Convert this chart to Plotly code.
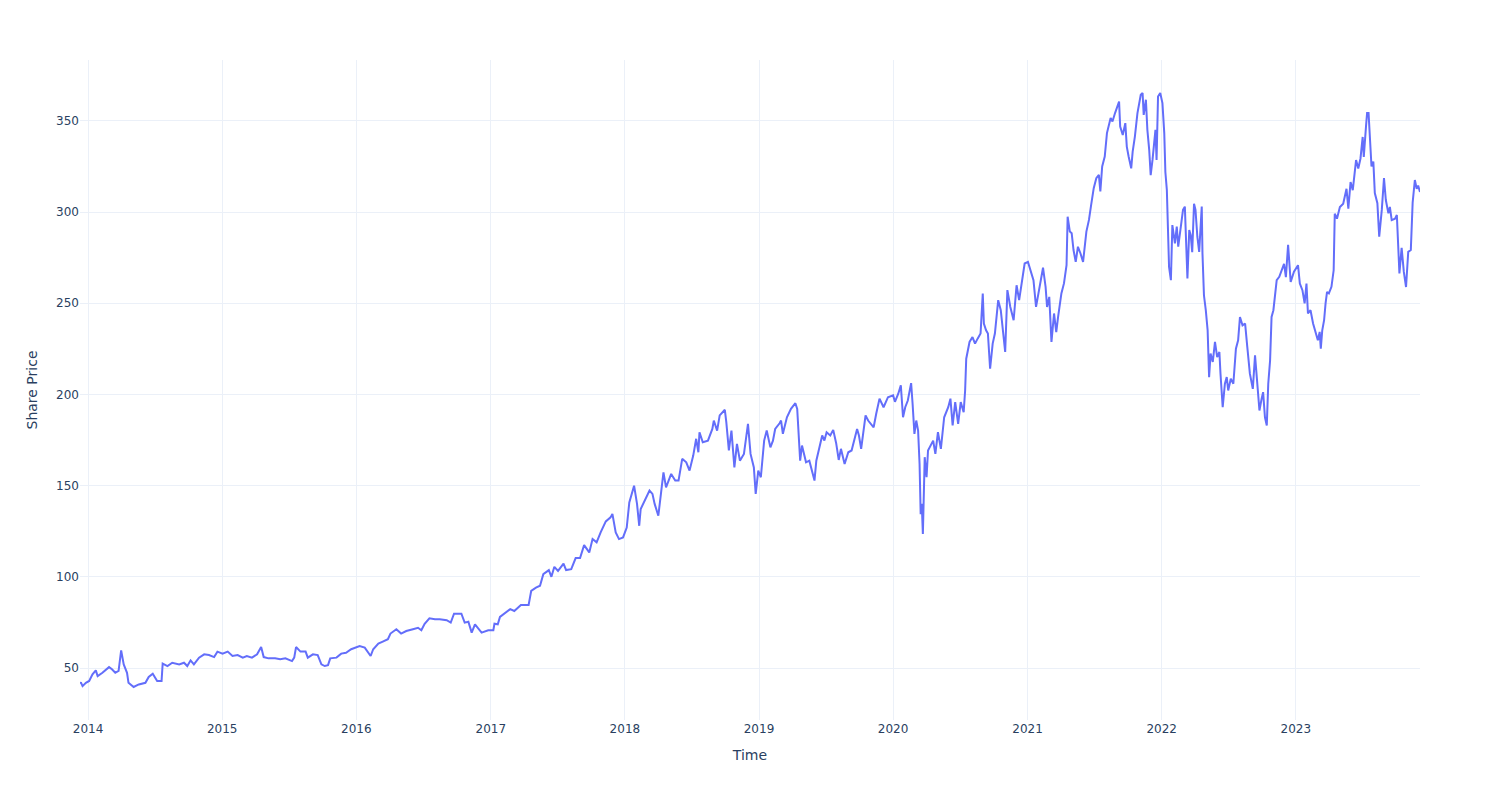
import plotly.graph_objects as go

dates = [
    "2013-12-10", "2013-12-13", "2013-12-17", "2013-12-26", "2014-01-04", "2014-01-13", "2014-01-22", "2014-01-27",
    "2014-02-09", "2014-02-27", "2014-03-07", "2014-03-16", "2014-03-25", "2014-04-01", "2014-04-08", "2014-04-17",
    "2014-04-21", "2014-05-05", "2014-05-19", "2014-06-06", "2014-06-15", "2014-06-26", "2014-07-08", "2014-07-20",
    "2014-07-23", "2014-08-05", "2014-08-18", "2014-09-06", "2014-09-19", "2014-09-28", "2014-10-07", "2014-10-16",
    "2014-10-30", "2014-11-13", "2014-11-26", "2014-12-10", "2014-12-19", "2015-01-02", "2015-01-16", "2015-01-29",
    "2015-02-12", "2015-02-26", "2015-03-09", "2015-03-23", "2015-04-06", "2015-04-17", "2015-04-24", "2015-05-07",
    "2015-05-25", "2015-06-08", "2015-06-22", "2015-07-10", "2015-07-16", "2015-07-21", "2015-08-02", "2015-08-16",
    "2015-08-22", "2015-09-05", "2015-09-18", "2015-09-28", "2015-10-07", "2015-10-16", "2015-10-22", "2015-11-08",
    "2015-11-21", "2015-12-04", "2015-12-18", "2016-01-01", "2016-01-10", "2016-01-24", "2016-02-02", "2016-02-09",
    "2016-02-16", "2016-03-01", "2016-03-13", "2016-03-27", "2016-04-03", "2016-04-19", "2016-05-02", "2016-05-16",
    "2016-06-03", "2016-06-17", "2016-06-26", "2016-07-05", "2016-07-18", "2016-08-02", "2016-08-15", "2016-09-03",
    "2016-09-14", "2016-09-23", "2016-10-13", "2016-10-22", "2016-11-01", "2016-11-10", "2016-11-19", "2016-12-07",
    "2016-12-25", "2017-01-08", "2017-01-11", "2017-01-20", "2017-01-26", "2017-02-05", "2017-02-18", "2017-02-23",
    "2017-03-06", "2017-03-24", "2017-04-14", "2017-04-21", "2017-05-04", "2017-05-15", "2017-05-24", "2017-06-08",
    "2017-06-15", "2017-06-23", "2017-07-03", "2017-07-18", "2017-07-25", "2017-08-08", "2017-08-20", "2017-09-01",
    "2017-09-12", "2017-09-26", "2017-10-05", "2017-10-16", "2017-10-27", "2017-11-10", "2017-11-23", "2017-11-28",
    "2017-12-07", "2017-12-16", "2017-12-27", "2018-01-06", "2018-01-13", "2018-01-26", "2018-02-03", "2018-02-09",
    "2018-02-13", "2018-02-28", "2018-03-09", "2018-03-17", "2018-03-23", "2018-04-02", "2018-04-16", "2018-04-23",
    "2018-05-07", "2018-05-18", "2018-05-27", "2018-06-06", "2018-06-17", "2018-06-26", "2018-07-06", "2018-07-14",
    "2018-07-20", "2018-07-23", "2018-08-01", "2018-08-15", "2018-08-27", "2018-08-31", "2018-09-09", "2018-09-16",
    "2018-09-25", "2018-09-30", "2018-10-04", "2018-10-11", "2018-10-18", "2018-10-26", "2018-11-02", "2018-11-10",
    "2018-11-21", "2018-12-02", "2018-12-09", "2018-12-18", "2018-12-23", "2018-12-30", "2019-01-06", "2019-01-15",
    "2019-01-22", "2019-02-01", "2019-02-08", "2019-02-14", "2019-02-26", "2019-03-02", "2019-03-07", "2019-03-18",
    "2019-03-29", "2019-04-10", "2019-04-15", "2019-04-19", "2019-04-23", "2019-04-28", "2019-05-09", "2019-05-18",
    "2019-05-23", "2019-06-01", "2019-06-06", "2019-06-14", "2019-06-22", "2019-06-28", "2019-07-04", "2019-07-14",
    "2019-07-22", "2019-07-30", "2019-08-06", "2019-08-12", "2019-08-22", "2019-09-01", "2019-09-10", "2019-09-25",
    "2019-09-30", "2019-10-06", "2019-10-18", "2019-10-25", "2019-11-09", "2019-11-16", "2019-11-25", "2019-12-06",
    "2019-12-18", "2020-01-01", "2020-01-06", "2020-01-15", "2020-01-22", "2020-01-28", "2020-02-03", "2020-02-10",
    "2020-02-19", "2020-02-23", "2020-02-28", "2020-03-04", "2020-03-09", "2020-03-13", "2020-03-16", "2020-03-19",
    "2020-03-22", "2020-03-27", "2020-04-01", "2020-04-05", "2020-04-12", "2020-04-19", "2020-04-25", "2020-05-02",
    "2020-05-10", "2020-05-19", "2020-05-30", "2020-06-05", "2020-06-11", "2020-06-18", "2020-06-26", "2020-07-03",
    "2020-07-11", "2020-07-15", "2020-07-18", "2020-07-27", "2020-08-04", "2020-08-11", "2020-08-18", "2020-08-26",
    "2020-09-01", "2020-09-04", "2020-09-10", "2020-09-15", "2020-09-21", "2020-09-28", "2020-10-04", "2020-10-13",
    "2020-10-20", "2020-11-01", "2020-11-07", "2020-11-15", "2020-11-24", "2020-12-02", "2020-12-09", "2020-12-18",
    "2020-12-24", "2021-01-02", "2021-01-09", "2021-01-17", "2021-01-24", "2021-02-02", "2021-02-12", "2021-02-19",
    "2021-02-23", "2021-03-01", "2021-03-07", "2021-03-14", "2021-03-20", "2021-03-25", "2021-04-03", "2021-04-10",
    "2021-04-17", "2021-04-20", "2021-04-26", "2021-05-01", "2021-05-06", "2021-05-12", "2021-05-18", "2021-05-25",
    "2021-06-01", "2021-06-10", "2021-06-17", "2021-06-23", "2021-06-30", "2021-07-07", "2021-07-14", "2021-07-18",
    "2021-07-23", "2021-07-30", "2021-08-05", "2021-08-15", "2021-08-20", "2021-08-27", "2021-09-02", "2021-09-07",
    "2021-09-10", "2021-09-17", "2021-09-24", "2021-09-28", "2021-10-03", "2021-10-10", "2021-10-14", "2021-10-20",
    "2021-10-27", "2021-11-05", "2021-11-10", "2021-11-13", "2021-11-19", "2021-11-23", "2021-11-28", "2021-12-02",
    "2021-12-07", "2021-12-11", "2021-12-15", "2021-12-18", "2021-12-22", "2021-12-28", "2022-01-03", "2022-01-08",
    "2022-01-11", "2022-01-15", "2022-01-18", "2022-01-21", "2022-01-26", "2022-01-30", "2022-02-06", "2022-02-11",
    "2022-02-15", "2022-02-24", "2022-02-28", "2022-03-05", "2022-03-08", "2022-03-12", "2022-03-17", "2022-03-21",
    "2022-03-25", "2022-03-30", "2022-04-03", "2022-04-08", "2022-04-13", "2022-04-20", "2022-04-22", "2022-04-26",
    "2022-05-01", "2022-05-06", "2022-05-10", "2022-05-14", "2022-05-20", "2022-05-26", "2022-06-01", "2022-06-07",
    "2022-06-10", "2022-06-16", "2022-06-22", "2022-06-27", "2022-07-01", "2022-07-08", "2022-07-15", "2022-07-22",
    "2022-07-28", "2022-08-02", "2022-08-09", "2022-08-16", "2022-08-22", "2022-08-29", "2022-09-06", "2022-09-12",
    "2022-09-16", "2022-09-24", "2022-09-30", "2022-10-04", "2022-10-09", "2022-10-14", "2022-10-18", "2022-10-23",
    "2022-10-27", "2022-11-01", "2022-11-10", "2022-11-17", "2022-11-30", "2022-12-05", "2022-12-11", "2022-12-18",
    "2022-12-27", "2023-01-07", "2023-01-12", "2023-01-19", "2023-01-25", "2023-01-30", "2023-02-03", "2023-02-10",
    "2023-02-17", "2023-02-24", "2023-03-02", "2023-03-07", "2023-03-10", "2023-03-14", "2023-03-19", "2023-03-23",
    "2023-03-27", "2023-04-01", "2023-04-08", "2023-04-14", "2023-04-17", "2023-04-23", "2023-05-01", "2023-05-10",
    "2023-05-19", "2023-05-24", "2023-05-30", "2023-06-05", "2023-06-14", "2023-06-20", "2023-06-26", "2023-07-02",
    "2023-07-05", "2023-07-11", "2023-07-14", "2023-07-18", "2023-07-22", "2023-07-26", "2023-07-31", "2023-08-04",
    "2023-08-11", "2023-08-16", "2023-08-23", "2023-08-29", "2023-09-03", "2023-09-10", "2023-09-14", "2023-09-19",
    "2023-09-28", "2023-10-03", "2023-10-10", "2023-10-16", "2023-10-22", "2023-10-28", "2023-11-03", "2023-11-10",
    "2023-11-15", "2023-11-21", "2023-11-26", "2023-11-30", "2023-12-05",
]

prices = [
    42.0, 41.9, 40.1, 41.9, 42.9, 46.5, 48.7, 45.6,
    47.4, 50.5, 49.3, 47.4, 48.4, 59.7, 52.0, 47.4,
    41.9, 39.6, 41.0, 41.9, 45.1, 46.9, 42.9, 42.9,
    52.4, 51.1, 52.9, 52.0, 52.9, 51.1, 54.2, 52.0,
    55.7, 57.5, 57.1, 56.0, 59.0, 57.9, 59.0, 56.6,
    57.1, 55.7, 56.6, 55.7, 57.5, 61.5, 56.0, 55.3,
    55.3, 54.8, 55.3, 53.8, 55.7, 61.5, 59.0, 59.0,
    55.7, 57.5, 57.1, 52.0, 51.1, 51.6, 55.3, 55.7,
    57.9, 58.4, 60.3, 61.5, 62.1, 61.2, 58.4, 56.6,
    60.3, 63.4, 64.5, 65.8, 68.9, 71.3, 68.9, 70.3,
    71.3, 72.1, 70.7, 74.3, 77.3, 76.8, 76.8, 76.2,
    74.9, 79.8, 79.8, 74.9, 75.4, 69.4, 74.0, 69.4,
    70.7, 70.7, 74.3, 74.0, 78.0, 79.5, 81.3, 82.3,
    81.3, 84.6, 84.6, 92.3, 94.1, 95.1, 101.5, 103.7,
    100.0, 105.5, 103.3, 107.3, 103.7, 104.2, 110.3, 110.3,
    117.4, 113.4, 120.7, 118.9, 124.4, 130.4, 132.6, 134.5,
    124.4, 120.7, 121.6, 127.0, 140.8, 150.0, 140.0, 128.0,
    137.2, 143.6, 147.3, 145.5, 140.0, 133.5, 157.3, 149.1,
    156.4, 152.8, 152.8, 164.7, 162.8, 158.3, 166.5, 175.7,
    168.3, 179.3, 173.8, 174.7, 181.1, 185.7, 180.2, 188.5,
    190.8, 191.6, 184.8, 169.3, 180.2, 160.0, 172.9, 163.7,
    167.4, 183.9, 167.4, 160.0, 145.5, 158.3, 154.6, 174.7,
    180.2, 171.0, 174.7, 181.1, 184.2, 185.7, 178.4, 187.5,
    192.1, 195.2, 192.1, 173.8, 163.7, 172.0, 162.8, 163.7,
    159.2, 152.8, 163.7, 170.2, 177.5, 174.7, 179.3, 177.5,
    180.6, 173.3, 164.1, 170.2, 161.9, 168.3, 169.3, 181.1,
    177.5, 170.2, 188.5, 185.7, 182.0, 189.4, 197.7, 193.0,
    198.5, 199.5, 196.0, 200.4, 205.0, 187.5, 193.0, 196.7,
    206.2, 194.9, 178.4, 185.7, 180.2, 161.9, 134.4, 140.0,
    123.5, 165.6, 154.6, 169.3, 172.0, 174.7, 167.4, 179.3,
    170.2, 187.5, 193.0, 197.7, 183.0, 195.8, 183.9, 195.8,
    190.3, 202.2, 219.6, 228.8, 231.5, 227.9, 230.6, 233.4,
    255.4, 238.9, 235.2, 233.4, 214.1, 227.9, 233.4, 251.7,
    246.2, 223.3, 257.2, 248.0, 240.7, 259.9, 251.7, 262.7,
    271.8, 272.7, 268.1, 262.7, 248.0, 257.2, 269.5, 259.0,
    248.0, 253.5, 228.8, 244.4, 234.2, 242.5, 255.4, 260.9,
    270.9, 297.5, 289.3, 288.4, 279.2, 272.7, 281.0, 277.3,
    272.7, 289.3, 295.7, 304.0, 313.1, 318.6, 320.4, 311.3,
    325.0, 330.5, 343.3, 351.6, 349.7, 354.3, 357.9, 360.6,
    346.9, 342.3, 348.8, 335.9, 330.5, 324.0, 333.2, 341.4,
    354.3, 364.3, 365.3, 353.3, 361.6, 345.1, 334.1, 320.3,
    328.6, 339.6, 345.1, 328.6, 363.4, 365.3, 359.8, 343.3,
    322.0, 312.2, 293.9, 270.0, 262.7, 292.9, 282.8, 292.0,
    281.0, 293.9, 301.2, 303.0, 279.2, 263.6, 290.1, 287.3,
    278.0, 304.6, 301.2, 286.5, 278.2, 303.0, 277.3, 254.4,
    246.2, 235.2, 209.5, 222.4, 217.8, 228.8, 220.5, 223.3,
    211.4, 193.0, 205.9, 209.5, 202.2, 208.6, 205.9, 225.1,
    229.7, 242.5, 237.9, 238.9, 226.0, 211.4, 203.1, 221.4,
    211.4, 191.2, 197.7, 201.3, 187.5, 183.0, 205.9, 218.7,
    242.5, 246.2, 262.7, 264.5, 271.6, 264.3, 282.1, 261.7,
    267.3, 270.9, 260.8, 257.2, 249.9, 260.8, 244.4, 246.2,
    238.9, 233.4, 229.7, 234.3, 225.1, 235.2, 240.7, 249.9,
    256.2, 255.4, 259.0, 268.1, 299.1, 296.4, 302.8, 304.6,
    312.8, 301.9, 316.5, 312.0, 328.5, 323.9, 329.4, 341.2,
    330.3, 346.9, 354.3, 354.3, 339.6, 325.0, 327.7, 310.4,
    304.9, 286.5, 301.2, 318.6, 306.6, 299.3, 302.8, 295.6,
    296.4, 298.4, 266.4, 280.4, 267.2, 258.9, 278.2, 279.2,
    305.2, 317.6, 312.8, 314.5, 311.0,
]

x_title = "Time"
y_title = "Share Price"

fig = go.Figure(
    go.Scatter(
        x=dates,
        y=prices,
        mode="lines",
        line=dict(color="#636efa", width=2),
        showlegend=False,
    )
)

fig.update_layout(
    template="plotly_white",
    width=1500,
    height=800,
    margin=dict(l=80, r=80, t=60, b=80),
    xaxis=dict(title=dict(text=x_title), type="date", dtick="M12", tickformat="%Y"),
    yaxis=dict(title=dict(text=y_title)),
    font=dict(family="DejaVu Sans"),
)

fig.write_html("out.html")
